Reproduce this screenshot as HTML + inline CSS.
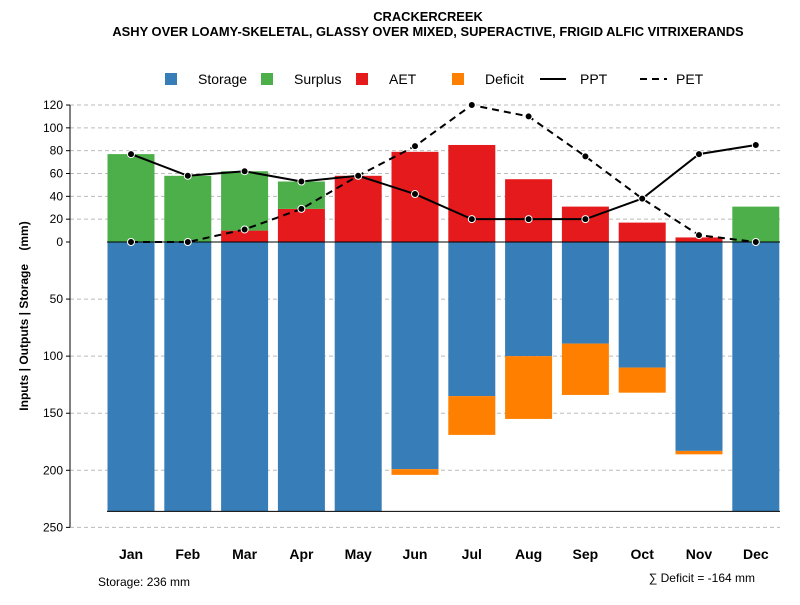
<!DOCTYPE html>
<html><head><meta charset="utf-8"><style>
body{margin:0;background:#fff;font-family:"Liberation Sans",Arial,sans-serif}
svg text{font-family:"Liberation Sans",Arial,sans-serif}
</style></head><body>
<svg id="c" width="800" height="600" xmlns="http://www.w3.org/2000/svg">
<text x="428" y="21" text-anchor="middle" font-size="12.9" font-weight="bold">CRACKERCREEK</text>
<text x="428" y="36" text-anchor="middle" font-size="12.9" font-weight="bold">ASHY OVER LOAMY-SKELETAL, GLASSY OVER MIXED, SUPERACTIVE, FRIGID ALFIC VITRIXERANDS</text>
<g font-size="14">
<rect x="165" y="73" width="12" height="12" fill="#377eb8"/>
<text x="198" y="84">Storage</text>
<rect x="261" y="73" width="12" height="12" fill="#4daf4a"/>
<text x="294" y="84">Surplus</text>
<rect x="356" y="73" width="12" height="12" fill="#e41a1c"/>
<text x="389" y="84">AET</text>
<rect x="452" y="73" width="12" height="12" fill="#ff7f00"/>
<text x="485" y="84">Deficit</text>
<line x1="540" y1="79" x2="566" y2="79" stroke="#000" stroke-width="2"/>
<text x="580" y="84">PPT</text>
<line x1="640" y1="79" x2="667" y2="79" stroke="#000" stroke-width="2" stroke-dasharray="7,5"/>
<text x="676" y="84">PET</text>
</g>
<text transform="translate(28,316) rotate(-90)" text-anchor="middle" font-size="12" font-weight="bold" style="white-space:pre">Inputs | Outputs | Storage    (mm)</text>
<text x="98" y="586" font-size="12">Storage: 236 mm</text>
<text x="755" y="582" text-anchor="end" font-size="12">∑ Deficit = -164 mm</text>
<g id="plot"></g>
</svg>
<script>
const months=["Jan","Feb","Mar","Apr","May","Jun","Jul","Aug","Sep","Oct","Nov","Dec"];
const storage=[236,236,236,236,236,199,135,100,89,110,183,236];
const deficit=[0,0,0,0,0,5,34,55,45,22,3,0];
const aet=[0,0,10,29,58,79,85,55,31,17,4,0];
const surplus=[77,58,52,24,0,0,0,0,0,0,0,31];
const ppt=[77,58,62,53,58,42,20,20,20,38,77,85];
const pet=[0,0,11,29,58,84,120,110,75,38,6,0];
const upTicks=[0,20,40,60,80,100,120];
const downTicks=[50,100,150,200,250];
const NS="http://www.w3.org/2000/svg";
const g=document.getElementById("plot");
const y0=242,k=1.1415;
const yUp=v=>y0-v*k, yDn=v=>y0+v*k;
const xc=i=>131+i*56.8, bw=47;
function mk(t,a){const e=document.createElementNS(NS,t);for(const n in a)e.setAttribute(n,a[n]);g.appendChild(e);return e;}
upTicks.concat(downTicks.map(v=>-v)).forEach(v=>{
 const y=v>=0?yUp(v):yDn(-v);
 if(v!==0){const l=mk("line",{x1:70,x2:780,y1:y,y2:y,stroke:"#bbb","stroke-dasharray":"4,3"});
 
 }
 const tk=mk("line",{x1:66,x2:70,y1:y,y2:y,stroke:"#000"});
 
 
 const t=mk("text",{x:63,y:y+4,"text-anchor":"end","font-size":12});t.textContent=Math.abs(v);
 
 
});
const ax=mk("line",{x1:70,x2:70,y1:yUp(120),y2:yDn(250),stroke:"#000"});


months.forEach((m,i)=>{
 const x=xc(i)-bw/2;
 const s=mk("rect",{x:x,y:y0,width:bw,height:storage[i]*k,fill:"#377eb8"});
 
 
 if(deficit[i]>0){const d=mk("rect",{x:x,y:yDn(storage[i]),width:bw,height:deficit[i]*k,fill:"#ff7f00"});
 
 }
 if(aet[i]>0){const a=mk("rect",{x:x,y:yUp(aet[i]),width:bw,height:aet[i]*k,fill:"#e41a1c"});
 
 }
 if(surplus[i]>0){const su=mk("rect",{x:x,y:yUp(aet[i]+surplus[i]),width:bw,height:surplus[i]*k,fill:"#4daf4a"});
 
 }
 const t=mk("text",{x:xc(i),y:559,"text-anchor":"middle","font-size":14,"font-weight":"bold"});t.textContent=m;
 
 
});
const zl=mk("line",{x1:107,x2:780,y1:y0,y2:y0,stroke:"#000"});


const bl=mk("line",{x1:107,x2:780,y1:yDn(236),y2:yDn(236),stroke:"#000"});


function series(arr,dash,name){
 const p=mk("polyline",{points:arr.map((v,i)=>xc(i)+","+yUp(v)).join(" "),fill:"none",stroke:"#000","stroke-width":2,"stroke-dasharray":dash});
 
 
 arr.forEach((v,i)=>{const c=mk("circle",{cx:xc(i),cy:yUp(v),r:3.5,fill:"#000",stroke:"#fff","stroke-width":1});
 
 });
}
series(pet,"7,5","pet");
series(ppt,"none","ppt");
</script>
</body></html>
